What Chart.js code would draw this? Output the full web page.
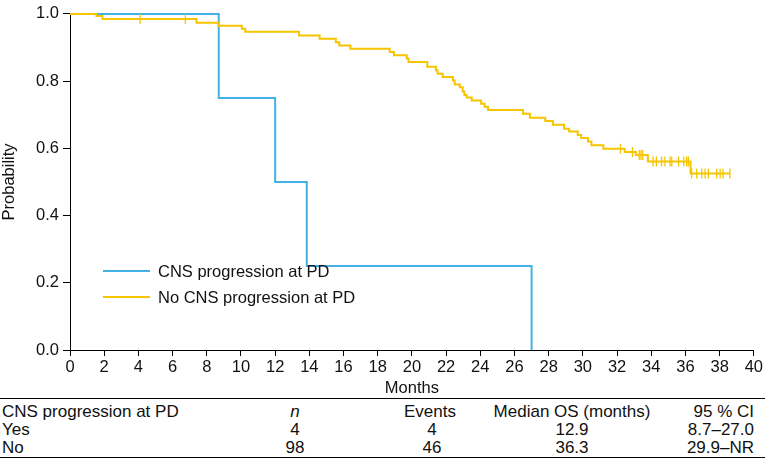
<!DOCTYPE html>
<html>
<head>
<meta charset="utf-8">
<script src="https://cdn.jsdelivr.net/npm/chart.js@4.4.0/dist/chart.umd.min.js"></script>
<style>
body { margin: 0; background: #fff; font-family: "Liberation Sans", Arial, sans-serif; color: #111; }
#wrap { position: relative; width: 765px; height: 467px; overflow: hidden; }
canvas { position: absolute; left: 0; top: 0; }
.t { position: absolute; font-size: 17px; line-height: 18px; white-space: nowrap; }
.lg { font-size: 16.5px; }
.c { transform: translateX(-50%); }
.r { transform: translateX(-100%); }
.rule { position: absolute; left: 0; width: 765px; height: 1px; background: #000; }
.swatch { position: absolute; width: 47px; height: 2px; }
</style>
</head>
<body>
<div id="wrap">
  <canvas id="km" width="765" height="400"></canvas>

  <div class="swatch" style="left:103px;top:270px;background:#43b0e6"></div>
  <div class="t lg" style="left:158px;top:262px">CNS progression at PD</div>
  <div class="swatch" style="left:103px;top:296px;background:#f6c500"></div>
  <div class="t lg" style="left:158px;top:288px">No CNS progression at PD</div>

  <div class="rule" style="top:398px"></div>
  <div class="t" style="left:2px;top:403px">CNS progression at PD</div>
  <div class="t c" style="left:295px;top:403px"><i>n</i></div>
  <div class="t c" style="left:430px;top:403px">Events</div>
  <div class="t c" style="left:572px;top:403px">Median OS (months)</div>
  <div class="t r" style="left:754px;top:403px">95 % CI</div>

  <div class="t" style="left:2px;top:421px">Yes</div>
  <div class="t c" style="left:295px;top:421px">4</div>
  <div class="t c" style="left:432px;top:421px">4</div>
  <div class="t c" style="left:572px;top:421px">12.9</div>
  <div class="t r" style="left:754px;top:421px">8.7–27.0</div>

  <div class="t" style="left:2px;top:439px">No</div>
  <div class="t c" style="left:295px;top:439px">98</div>
  <div class="t c" style="left:432px;top:439px">46</div>
  <div class="t c" style="left:572px;top:439px">36.3</div>
  <div class="t r" style="left:754px;top:439px">29.9–NR</div>
  <div class="rule" style="top:457px"></div>
</div>

<script>
// CNS progression at PD (blue)
const blueTimes = [0, 8.7, 12.0, 13.85, 27.0];
const blueSurv  = [1, 0.75, 0.5, 0.25, 0];

// No CNS progression at PD (yellow), read off the steps
const yellowTimes = [0, 1.55, 1.9, 7.4, 8.7, 10.05, 10.25, 13.4, 14.6, 15.55, 15.75, 16.4,
  18.7, 18.95, 19.7, 19.8, 20.9, 21.4, 21.5, 21.8, 22.4, 22.5, 22.8, 22.97, 23.07, 23.2,
  23.5, 24.05, 24.25, 24.45, 26.5, 26.9, 27.8, 28.25, 28.9, 29.2, 29.7, 29.9, 30.3, 30.5,
  31.2, 32.45, 33.1, 33.8, 36.3, 38.6];
const yellowSurv = [1, 0.994, 0.985, 0.974, 0.965, 0.956, 0.947, 0.936, 0.926, 0.916, 0.906, 0.896,
  0.887, 0.877, 0.867, 0.857, 0.843, 0.832, 0.822, 0.812, 0.802, 0.790, 0.782, 0.769, 0.759, 0.751,
  0.742, 0.733, 0.724, 0.714, 0.703, 0.691, 0.681, 0.670, 0.658, 0.650, 0.640, 0.631, 0.620, 0.609,
  0.599, 0.589, 0.580, 0.561, 0.525, 0.525];

// censored times (tick marks) on the yellow curve
const yellowCensored = [4.1, 6.75, 32.2, 32.9, 33.3, 33.4, 33.5, 34.1, 34.3, 34.6, 34.8,
  35.1, 35.2, 35.6, 35.9, 36.07, 36.17, 36.36, 36.66, 36.95, 37.15, 37.34, 37.83, 38.03, 38.2, 38.6];

const xTickStep = 2;
const yTickStep = 0.2;

const blue = '#43b0e6';
const yellow = '#f6c500';
const font = { family: '"Liberation Sans", Arial, sans-serif', size: 16.5 };

const levelAt = (t) => {
  let s = 1;
  yellowTimes.forEach((x, i) => { if (x <= t) s = yellowSurv[i]; });
  return s;
}

const toPoints = (xs, ys) => xs.map((x, i) => ({ x: x, y: ys[i] }));

const ctx = document.getElementById('km').getContext('2d');
new Chart(ctx, {
  type: 'line',
  data: {
    datasets: [
      {
        type: 'scatter',
        data: yellowCensored.map(t => ({ x: t, y: levelAt(t) })),
        pointStyle: 'line',
        rotation: 90,
        pointRadius: 5,
        borderColor: yellow,
        borderWidth: 1.3,
        showLine: false,
        clip: 8,
      },
      {
        data: toPoints(yellowTimes, yellowSurv),
        stepped: true,
        borderColor: yellow,
        borderWidth: 2,
        pointRadius: 0,
        fill: false,
        clip: 4,
      },
      {
        data: toPoints(blueTimes, blueSurv),
        stepped: true,
        borderColor: blue,
        borderWidth: 2,
        pointRadius: 0,
        fill: false,
        clip: 4,
      },
    ]
  },
  options: {
    responsive: false,
    animation: false,
    layout: { padding: { top: 9, right: 10, left: 0, bottom: 0 } },
    plugins: { legend: { display: false }, tooltip: { enabled: false } },
    scales: {
      x: {
        type: 'linear', min: 0, max: 40,
        ticks: { stepSize: xTickStep, font: font, color: '#111', padding: 2, maxRotation: 0, autoSkip: false },
        grid: { drawOnChartArea: false, tickLength: 6, color: '#000' },
        border: { color: '#000', width: 1 },
        title: { display: true, text: 'Months', font: font, color: '#111', padding: { top: 0, bottom: 2 } },
        afterFit: (s) => { s.height = 50; },
      },
      y: {
        min: 0, max: 1,
        ticks: { stepSize: yTickStep, font: font, color: '#111', padding: 4, callback: v => v.toFixed(1) },
        grid: { drawOnChartArea: false, tickLength: 7, color: '#000' },
        border: { color: '#000', width: 1 },
        title: { display: true, text: 'Probability', font: font, color: '#111', padding: 0 },
        afterFit: (s) => { s.width = 70; },
      }
    }
  }
});
</script>
</body>
</html>
